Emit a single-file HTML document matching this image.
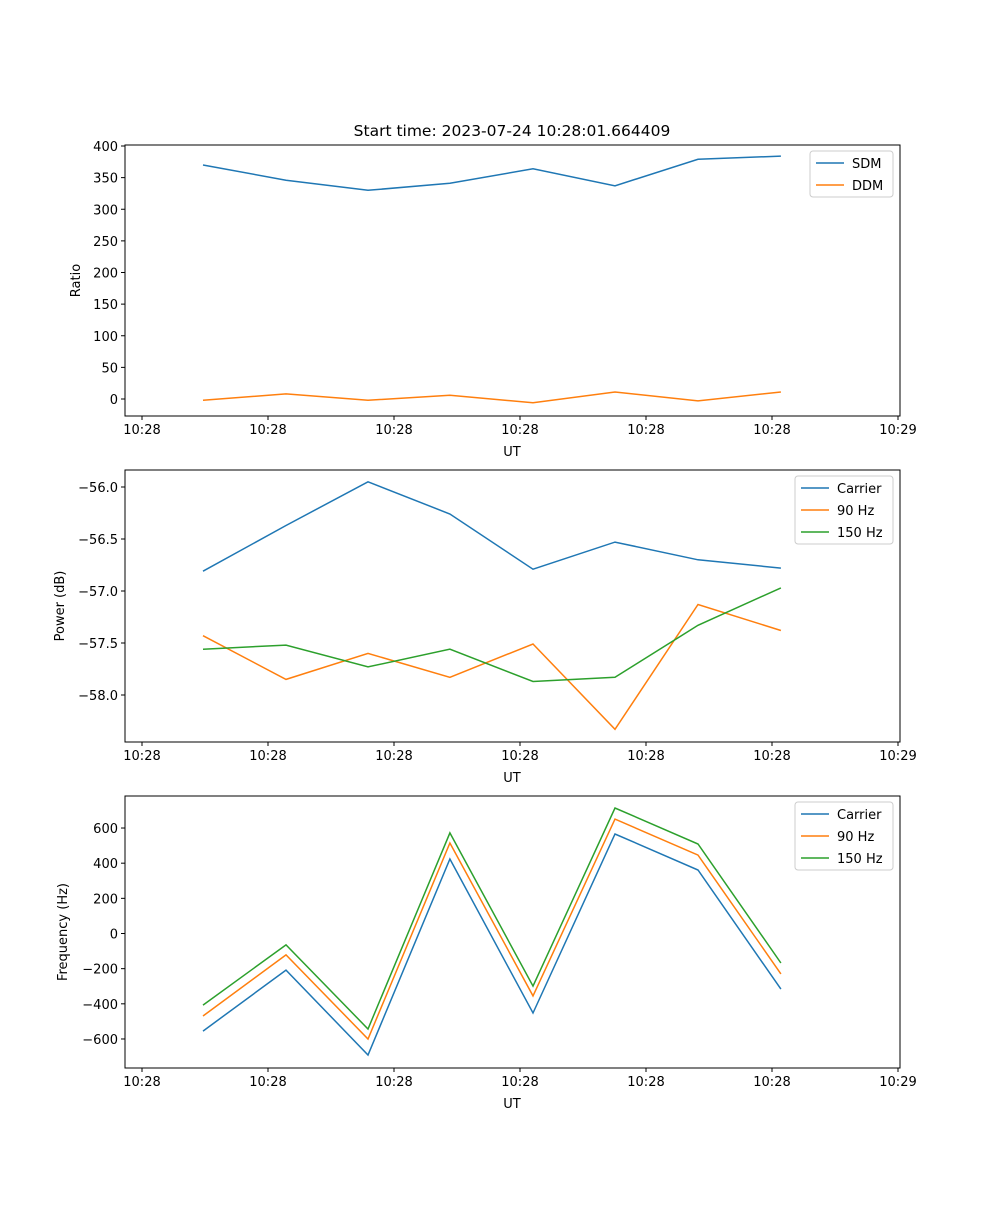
<!DOCTYPE html>
<html><head><meta charset="utf-8"><style>
body{margin:0;background:#fff}
svg{font-family:"DejaVu Sans","Liberation Sans",sans-serif;font-size:13px}
</style></head><body>
<svg id="chart" width="1000" height="1200"></svg>
<script>
const xTickLabels=["10:28","10:28","10:28","10:28","10:28","10:28","10:29"];
const xTickVals=[0,10,20,30,40,50,60];
const times=[4.84,11.43,17.94,24.44,31.03,37.54,44.13,50.71];
const sdm=[370,346,330,341,364,337,379,384];
const ddm=[-2,8,-2,6,-6,11,-3,11];
const pCarrier=[-56.81,-56.37,-55.95,-56.26,-56.79,-56.53,-56.70,-56.78];
const p90=[-57.43,-57.85,-57.60,-57.83,-57.51,-58.33,-57.13,-57.38];
const p150=[-57.56,-57.52,-57.73,-57.56,-57.87,-57.83,-57.33,-56.97];
const fCarrier=[-555,-208,-691,424,-452,566,361,-316];
const f90=[-469,-122,-600,515,-355,651,446,-230];
const f150=[-407,-65,-543,572,-299,714,509,-168];
const ratioTicks=[0,50,100,150,200,250,300,350,400];
const powerTicks=[-56.0,-56.5,-57.0,-57.5,-58.0];
const freqTicks=[-600,-400,-200,0,200,400,600];
const C1="#1f77b4",C2="#ff7f0e",C3="#2ca02c";
const svg=document.getElementById('chart');
const NS="http://www.w3.org/2000/svg";
function mk(tag,attrs,parent){const e=document.createElementNS(NS,tag);for(const k in attrs)e.setAttribute(k,attrs[k]);(parent||svg).appendChild(e);return e;}
const X0=125,X1=900;
const xs=v=>142+v*12.6;
function panel(name,top,bottom,yFn,yTicks,fmt,ylabel,ylabelX,series,legend){
  const g=mk('g',{});
  
  
  series.forEach(s=>{
    const pts=times.map((t,i)=>xs(t).toFixed(1)+','+yFn(s.data[i]).toFixed(1)).join(' ');
    const l=mk('polyline',{points:pts,fill:'none',stroke:s.color,'stroke-width':1.5},g);
    
    
  });
  const r=mk('rect',{x:X0,y:top,width:X1-X0,height:bottom-top,fill:'none',stroke:'#000','stroke-width':1},g);
  
  
  xTickVals.forEach((v,i)=>{
    const x=xs(v);
    mk('line',{x1:x,x2:x,y1:bottom,y2:bottom+4,stroke:'#000'},g);
    const t=mk('text',{x:x,y:bottom+18,'text-anchor':'middle'},g);t.textContent=xTickLabels[i];
    
    
  });
  const xl=mk('text',{x:512,y:bottom+40,'text-anchor':'middle'},g);xl.textContent='UT';
  
  
  yTicks.forEach(v=>{
    const y=yFn(v);
    mk('line',{x1:X0-4,x2:X0,y1:y,y2:y,stroke:'#000'},g);
    const t=mk('text',{x:X0-7,y:y+5,'text-anchor':'end'},g);t.textContent=fmt(v);
    
    
  });
  const cy=(top+bottom)/2;
  const yl=mk('text',{x:ylabelX,y:cy,'text-anchor':'middle',transform:`rotate(-90 ${ylabelX} ${cy})`},g);yl.textContent=ylabel;
  
  
  const lg=mk('g',{},g);
  
  
  mk('rect',{x:legend.x,y:top+6,width:893-legend.x,height:series.length*22+2,rx:3,fill:'#fff',stroke:'#ccc'},lg);
  series.forEach((s,i)=>{
    const y=top+18+i*22;
    mk('line',{x1:legend.x+6,x2:legend.x+34,y1:y,y2:y,stroke:s.color,'stroke-width':1.5},lg);
    const t=mk('text',{x:legend.x+42,y:y+5},lg);t.textContent=s.label;
    
    
  });
}
const title=mk('text',{x:512,y:136,'text-anchor':'middle','font-size':'15.5px'});
title.textContent='Start time: 2023-07-24 10:28:01.664409';


panel('ratio',145,416,v=>399-v*0.6325,ratioTicks,v=>String(v),'Ratio',80,
 [{key:'sdm',label:'SDM',data:sdm,color:C1},{key:'ddm',label:'DDM',data:ddm,color:C2}],{x:810});
panel('power',470,742,v=>487+(-56-v)*104,powerTicks,v=>'\u2212'+Math.abs(v).toFixed(1),'Power (dB)',64,
 [{key:'carrier',label:'Carrier',data:pCarrier,color:C1},{key:'90hz',label:'90 Hz',data:p90,color:C2},{key:'150hz',label:'150 Hz',data:p150,color:C3}],{x:795});
panel('frequency',796,1068,v=>933.5-v*0.1758,freqTicks,v=>v<0?'\u2212'+Math.abs(v):String(v),'Frequency (Hz)',67,
 [{key:'carrier',label:'Carrier',data:fCarrier,color:C1},{key:'90hz',label:'90 Hz',data:f90,color:C2},{key:'150hz',label:'150 Hz',data:f150,color:C3}],{x:795});
</script>
</body></html>
